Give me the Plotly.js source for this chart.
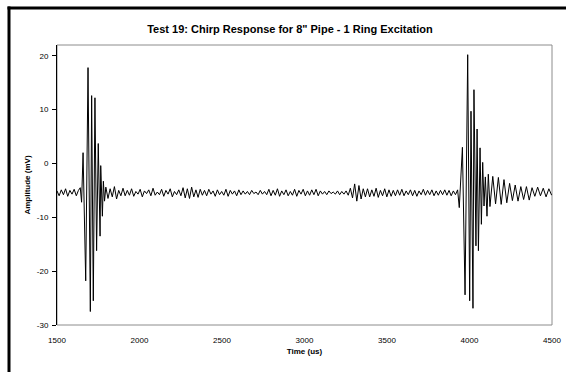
<!DOCTYPE html>
<html>
<head>
<meta charset="utf-8">
<script src="https://cdn.plot.ly/plotly-3.0.1.min.js"></script>
<style>
  html, body { margin: 0; padding: 0; background: #fff; }
  #chart { width: 566px; height: 372px; }
</style>
</head>
<body>
<div id="chart"></div>
<script>
// Received chirp signal, 8" pipe, single ring excitation (amplitude in mV, time in us)

// Quiet baseline before the first arrival: samples every 13 us from 1500 us
const preStartUs = 1500;
const preStepUs = 13;
const preAmp = [-5.1, -6.0, -4.9, -5.8, -4.7, -6.1, -5.0, -5.7, -4.8, -6.0, -5.0];

// First arrival (direct chirp): peak / trough times and amplitudes
const firstTimeUs = [1641, 1649, 1658, 1674, 1688, 1702, 1710, 1720, 1730, 1740, 1750, 1761, 1765, 1775, 1781, 1788];
const firstAmp    = [-4.5, -7.2,  2.0, -21.8, 17.8, -27.5, 12.6, -25.5, 12.2, -16.2, 3.7, -13.5, -0.4, -9.8, -3.3, -7.0];

// Baseline between arrivals: samples every 13 us from 1796 us
const midStartUs = 1796;
const midStepUs = 13;
const midAmp = [
  -4.4, -6.5, -4.7, -6.2, -4.3, -6.6, -5.0, -6.0, -4.6,
  -6.0, -5.0, -5.9, -4.7, -6.1, -5.2, -5.7, -4.8, -6.2, -5.1, -5.6, -4.9, -6.0, -4.6,
  -5.9, -5.3, -5.8, -4.8, -6.1, -5.0, -5.7, -4.7, -6.2, -5.2, -5.8, -4.9, -6.0,
  -4.5, -6.4, -4.7, -6.5, -4.4, -6.2, -4.9, -6.3, -4.8,
  -5.9, -5.0, -6.0, -4.8, -5.7, -5.1, -6.1, -4.9, -5.8, -5.2, -5.9, -4.8, -6.1, -5.0,
  -5.7, -5.1, -6.0, -4.9, -5.8,
  -5.1, -5.7, -5.2, -5.8, -5.0, -5.6, -5.3, -5.8, -5.0, -5.7, -5.2, -5.8,
  -4.8, -6.0, -5.0, -5.9, -4.7, -6.1, -5.1, -5.8, -4.9, -6.0, -5.2, -5.9, -4.8, -6.1,
  -5.0, -5.7, -4.8, -6.0, -5.1, -5.9, -4.9, -5.8, -4.8, -6.0,
  -5.1, -5.7, -5.2, -5.8, -5.1, -5.6, -5.3, -5.7, -5.1, -5.8, -5.2, -5.7, -5.1, -5.9,
  -4.6, -6.4, -3.8, -7.0, -4.1, -6.6, -4.7, -6.2,
  -4.7, -6.2, -4.9, -6.1, -4.6, -6.3, -5.0, -6.0, -4.7, -6.2, -4.9, -6.1, -5.0, -6.0,
  -4.9, -5.9, -4.8, -6.0, -5.1, -5.8, -4.9, -6.0, -5.0, -6.1, -5.1, -5.8, -4.8, -5.9,
  -5.0, -5.8, -4.9, -6.0, -5.1, -5.9, -5.0, -5.8, -4.9, -5.9, -5.0, -6.0, -5.1, -5.8, -4.9
];

// Second arrival (end reflection): peak / trough times and amplitudes
const secondTimeUs = [3938, 3957, 3973, 3989, 4001, 4009, 4021, 4027, 4039, 4046, 4054, 4064, 4072, 4080, 4088, 4096, 4106, 4114];
const secondAmp    = [-8.2,  3.0, -24.4, 20.2, -25.5, 9.7, -26.9, 13.7, -15.3, 6.4, -16.2, 2.9, -11.3, 0.2, -7.9, -2.5, -9.8, -2.0];

// Ringing after the reflection: samples every 17 us from 4124 us
const tailStartUs = 4124;
const tailStepUs = 17;
const tailAmp = [-8.0, -2.4, -7.5, -2.6, -7.6, -3.0, -7.3, -3.7, -6.9, -4.0, -7.0, -4.3,
                 -6.7, -4.3, -6.8, -4.5, -6.1, -4.4, -6.0, -4.6, -6.2, -4.7, -5.9];

// Axis ticks
const xTicks = [1500, 2000, 2500, 3000, 3500, 4000, 4500];
const yTicks = [-30, -20, -10, 0, 10, 20];

// Assemble one continuous record
const timeUs = [];
const ampMv = [];
function addUniform(start, step, values) {
  values.forEach((v, i) => { timeUs.push(start + i * step); ampMv.push(v); });
}
function addPoints(times, values) {
  times.forEach((t, i) => { timeUs.push(t); ampMv.push(values[i]); });
}
addUniform(preStartUs, preStepUs, preAmp);
addPoints(firstTimeUs, firstAmp);
addUniform(midStartUs, midStepUs, midAmp);
addPoints(secondTimeUs, secondAmp);
addUniform(tailStartUs, tailStepUs, tailAmp);

const FONT = 'Arial, "Liberation Sans", Helvetica, sans-serif';

// Plot-area geometry in pixels, used to place the outer chart frame
const W = 566, H = 372;
const M = { l: 57, r: 14, t: 45, b: 47 };
const pw = W - M.l - M.r, ph = H - M.t - M.b;
const px = x => (x - M.l) / pw;
const py = y => 1 - (y - M.t) / ph;

const trace = {
  x: timeUs,
  y: ampMv,
  type: 'scatter',
  mode: 'lines',
  line: { color: '#000000', width: 1 },
  hoverinfo: 'x+y'
};

const layout = {
  width: W,
  height: H,
  margin: M,
  paper_bgcolor: '#ffffff',
  plot_bgcolor: '#ffffff',
  showlegend: false,
  title: {
    text: 'Test 19: Chirp Response for 8" Pipe - 1 Ring Excitation',
    font: { family: FONT, size: 11, color: '#000', weight: 'bold' },
    xref: 'container', x: 290 / W, xanchor: 'center',
    yref: 'container', y: 1 - 29 / H, yanchor: 'middle'
  },
  xaxis: {
    range: [1500, 4500],
    tickvals: xTicks,
    ticktext: xTicks.map(String),
    ticks: 'outside',
    ticklen: 7,
    tickcolor: 'rgba(0,0,0,0)',
    showgrid: false,
    zeroline: false,
    showline: false,
    tickfont: { family: FONT, size: 8, color: '#000' },
    title: { text: 'Time (us)', font: { family: FONT, size: 8, color: '#000', weight: 'bold' }, standoff: 4 }
  },
  yaxis: {
    range: [-30, 22],
    tickvals: yTicks,
    ticktext: yTicks.map(String),
    ticks: 'outside',
    ticklen: 4,
    tickcolor: '#000',
    tickwidth: 1,
    ticklabelstandoff: 2,
    showgrid: false,
    zeroline: false,
    showline: true,
    linecolor: '#000',
    linewidth: 1,
    tickfont: { family: FONT, size: 8, color: '#000' },
    title: { text: 'Amplitude (mV)', font: { family: FONT, size: 8, color: '#000', weight: 'bold' }, standoff: 5 }
  },
  shapes: [
    // plot-area border
    { type: 'rect', xref: 'paper', yref: 'paper', x0: 0, x1: 1, y0: 0, y1: 1,
      line: { color: '#8c8c8c', width: 1 }, layer: 'below' },
    // outer chart frame, left and top edges
    { type: 'line', xref: 'paper', yref: 'paper', x0: px(9), x1: px(9), y0: py(6.5), y1: py(H + 2),
      line: { color: '#000', width: 3 } },
    { type: 'line', xref: 'paper', yref: 'paper', x0: px(7.5), x1: px(W + 2), y0: py(8), y1: py(8),
      line: { color: '#000', width: 3 } }
  ]
};

Plotly.newPlot('chart', [trace], layout, { staticPlot: true, displayModeBar: false });
</script>
</body>
</html>
